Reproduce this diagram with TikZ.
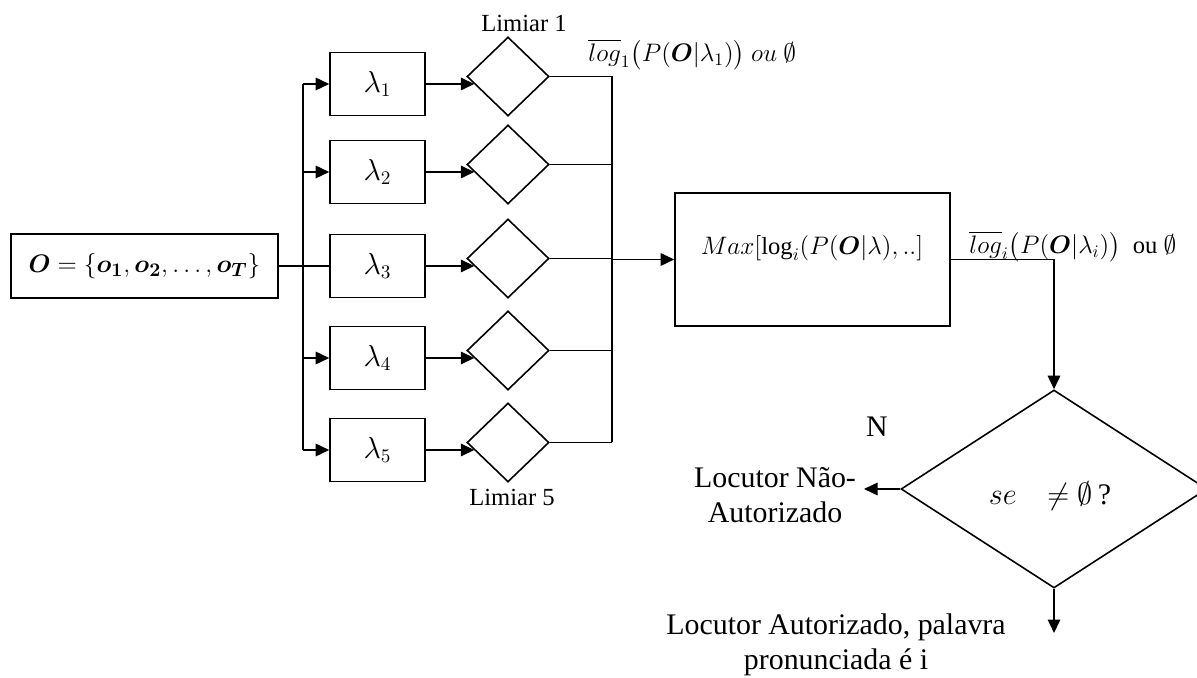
\documentclass[tikz,border=0pt]{standalone}
\usepackage{amsmath,amssymb}
\usepackage{fontspec}
\setmainfont{Liberation Serif}
\usetikzlibrary{arrows.meta,shapes.geometric}

\begin{document}
\begin{tikzpicture}[
  x=1cm,y=1cm,
  block/.style={
    draw=black,line width=.9pt,minimum width=1.9cm,minimum height=1.26cm,
    inner sep=0pt,font=\fontsize{16}{18}\selectfont
  },
  inbox/.style={block,minimum width=5.34cm,minimum height=1.28cm,font=\fontsize{15}{18}\selectfont},
  maxbox/.style={block,minimum width=5.5cm,minimum height=2.66cm},
  gate/.style={
    diamond,draw=black,line width=.9pt,minimum width=1.64cm,
    minimum height=1.58cm,inner sep=0pt
  },
  decision/.style={gate,minimum width=6.12cm,minimum height=3.96cm},
  wire/.style={draw=black,line width=.9pt},
  flow/.style={wire,-{Triangle[length=2.7mm,width=2.5mm]}},
  caption/.style={font=\fontsize{14}{16}\selectfont,inner sep=0pt},
  outcome/.style={font=\fontsize{17}{19.6}\selectfont,align=center,inner sep=0pt},
  score/.style={font=\fontsize{14}{16}\selectfont,inner sep=0pt,anchor=west}
]
  \useasboundingbox (0,0) rectangle (23.94,13.54);

  % observations and the five word models
  \node[inbox] (obs) at (2.89,8.22)
    {$\boldsymbol{O}=\{\boldsymbol{o_1},\boldsymbol{o_2},\ldots,\boldsymbol{o_T}\}$};
  \coordinate (split) at (6.06,8.22);
  \coordinate (join) at (12.24,8.35);
  \foreach \i/\y in {1/11.86,2/10.10,3/8.22,4/6.38,5/4.54}{
    \node[block] (lam\i) at (7.55,\y) {$\lambda_{\i}$};
    \node[gate] (thr\i) at (10.16,\y+0.15) {};
  }
  \node[caption] (lim1) at (10.48,13.08) {Limiar 1};
  \node[caption] (lim5) at (10.24,3.6) {Limiar 5};

  \draw[wire] (obs.east) -- (lam3.west);
  \draw[wire] (lam1.west -| split) -- (lam5.west -| split);
  \foreach \i in {1,2,4,5}
    {\draw[flow] (lam\i.west -| split) -- (lam\i.west);}
  \foreach \i in {1,...,5}{
    \draw[flow] (lam\i.east) -- (lam\i.east -| thr\i.193);
    \draw[wire] (thr\i.east) -- (thr\i.east -| join);
  }
  \draw[wire] (thr1.east -| join) -- (thr5.east -| join);
  \node[score] (score1) at (11.76,12.44)
    {$\overline{log}_1\big(P(\boldsymbol{O}|\lambda_1)\big)\ ou\ \emptyset$};

  % selection of the best score
  \node[maxbox] (maxsel) at (16.25,8.35) {};
  \node[caption] (maxtext) at (16.24,8.58)
    {$Max[\log_i(P(\boldsymbol{O}|\lambda),..]$};
  \draw[flow] (join |- maxsel.west) -- (maxsel.west);
  \node[score] (scorei) at (19.38,8.6)
    {$\overline{log}_i\big(P(\boldsymbol{O}|\lambda_i)\big)$\ \ ou $\emptyset$};

  % decision
  \node[decision] (check) at (21.08,3.76) {};
  \node[outcome] (checktext) at (21.0,3.62) {$se\ \ \ \neq\emptyset$\,?};
  \draw[flow] (maxsel.east) -| (check.north);
  \coordinate (reject) at (17.28,3.76);
  \coordinate (accept) at (21.08,0.88);
  \draw[flow] (check.west) -- (reject);
  \draw[flow] (check.south) -- (accept);
  \node[outcome] (nolabel) at (17.54,5.0) {N};
  \node[outcome] (rejecttext) at (15.5,3.64) {Locutor Não-\\Autorizado};
  \node[outcome] (accepttext) at (16.72,0.64)
    {Locutor Autorizado, palavra\\pronunciada é i};
\end{tikzpicture}
\end{document}
